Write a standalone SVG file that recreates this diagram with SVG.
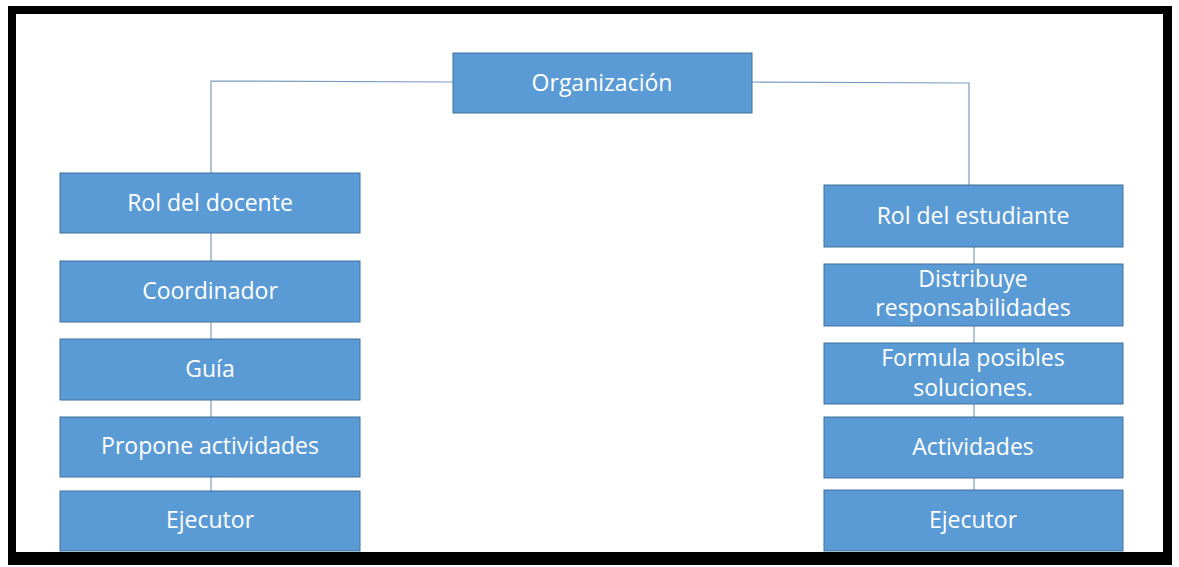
<svg xmlns="http://www.w3.org/2000/svg" width="1179" height="567" viewBox="0 0 1179 567">
<style>
.box{fill:#5B9BD5;stroke:#41719C;stroke-width:1}
.lbl{fill:#FFFFFF;font-family:"Open Sans","DejaVu Sans",sans-serif;font-size:23px;text-anchor:middle}
.con{fill:none;stroke:#7A9CC0;stroke-width:1.2}
</style>
<rect x="0" y="0" width="1179" height="567" fill="#FFFFFF"/>
<rect x="8" y="6" width="1164" height="559" fill="#000000"/>
<rect x="16" y="14" width="1147" height="538" fill="#FFFFFF"/>
<g id="connectors">
<polyline class="con" points="453,82 211,81 211,173"/>
<polyline class="con" points="752,82 969,83 969,185"/>
<line class="con" x1="211" y1="233" x2="211" y2="261"/>
<line class="con" x1="211" y1="322" x2="211" y2="339"/>
<line class="con" x1="211" y1="400" x2="211" y2="417"/>
<line class="con" x1="211" y1="477" x2="211" y2="491"/>
<line class="con" x1="974" y1="247" x2="974" y2="264"/>
<line class="con" x1="974" y1="326" x2="974" y2="343"/>
<line class="con" x1="974" y1="404" x2="974" y2="417"/>
<line class="con" x1="974" y1="478" x2="974" y2="490"/>
</g>
<g id="organizacion"><rect class="box" x="453" y="53" width="299" height="60"/><text class="lbl" x="602" y="91">Organización</text></g>
<g id="rol-docente"><rect class="box" x="60" y="173" width="300" height="60"/><text class="lbl" x="210" y="211">Rol del docente</text></g>
<g id="coordinador"><rect class="box" x="60" y="261" width="300" height="61"/><text class="lbl" x="210" y="299">Coordinador</text></g>
<g id="guia"><rect class="box" x="60" y="339" width="300" height="61"/><text class="lbl" x="210" y="377">Guía</text></g>
<g id="propone"><rect class="box" x="60" y="417" width="300" height="60"/><text class="lbl" x="210" y="454">Propone actividades</text></g>
<g id="ejecutor-docente"><rect class="box" x="60" y="491" width="300" height="60"/><text class="lbl" x="210" y="528">Ejecutor</text></g>
<g id="rol-estudiante"><rect class="box" x="824" y="185" width="299" height="62"/><text class="lbl" x="973" y="224">Rol del estudiante</text></g>
<g id="distribuye"><rect class="box" x="824" y="264" width="299" height="62"/><text class="lbl" x="973" y="287">Distribuye</text><text class="lbl" x="973" y="316">responsabilidades</text></g>
<g id="formula"><rect class="box" x="824" y="343" width="299" height="61"/><text class="lbl" x="973" y="366">Formula posibles</text><text class="lbl" x="973" y="396">soluciones.</text></g>
<g id="actividades"><rect class="box" x="824" y="417" width="299" height="61"/><text class="lbl" x="973" y="455">Actividades</text></g>
<g id="ejecutor-estudiante"><rect class="box" x="824" y="490" width="299" height="61"/><text class="lbl" x="973" y="528">Ejecutor</text></g>
</svg>
